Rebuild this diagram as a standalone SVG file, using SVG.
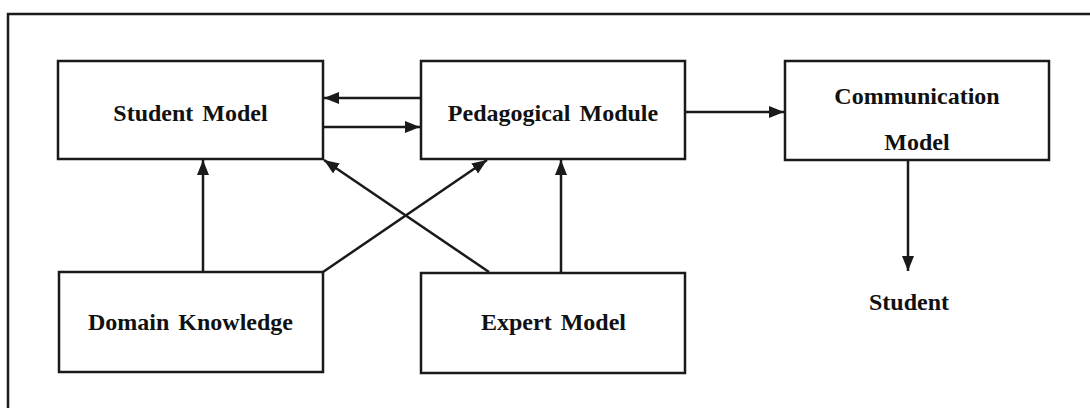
<svg xmlns="http://www.w3.org/2000/svg" width="1090" height="408" viewBox="0 0 1090 408">
<style>
.box{fill:#fff;stroke:#1a1a1a;stroke-width:2.5}
.lbl{font-family:"Liberation Serif","Times New Roman",serif;font-weight:bold;font-size:24px;fill:#111;text-anchor:middle;word-spacing:3px}
.con{stroke:#1a1a1a;stroke-width:2.5;fill:none}
.arr{marker-end:url(#ah)}
</style>
<defs>
<marker id="ah" markerUnits="userSpaceOnUse" markerWidth="16" markerHeight="13" refX="15" refY="6" orient="auto">
<path d="M0,0 L15,6 L0,12 z" fill="#1a1a1a"/>
</marker>
</defs>
<rect width="1090" height="408" fill="#fff"/>
<path id="frame" d="M8,420 L8,14 L1100,14" fill="none" stroke="#1a1a1a" stroke-width="2.5"/>
<g id="connectors">
<line class="con arr" x1="421" y1="98" x2="324" y2="98"/>
<line class="con arr" x1="323" y1="127" x2="420" y2="127"/>
<line class="con arr" x1="203" y1="272" x2="203" y2="160"/>
<line class="con arr" x1="323" y1="272" x2="487" y2="160"/>
<line class="con arr" x1="489" y1="272" x2="324" y2="160"/>
<line class="con arr" x1="561" y1="272" x2="561" y2="160"/>
<line class="con arr" x1="685" y1="112" x2="784" y2="112"/>
<line class="con arr" x1="908" y1="160" x2="908" y2="271"/>
</g>
<g id="student-model">
<rect class="box" x="58" y="61" width="265" height="98"/>
<text class="lbl" x="190.5" y="121">Student Model</text>
</g>
<g id="pedagogical-module">
<rect class="box" x="421" y="61" width="264" height="98"/>
<text class="lbl" x="553" y="121">Pedagogical Module</text>
</g>
<g id="communication-model">
<rect class="box" x="785" y="61" width="264" height="99"/>
<text class="lbl" x="917" y="104">Communication</text>
<text class="lbl" x="917" y="150">Model</text>
</g>
<g id="domain-knowledge">
<rect class="box" x="59" y="272" width="264" height="100"/>
<text class="lbl" x="190.5" y="330">Domain Knowledge</text>
</g>
<g id="expert-model">
<rect class="box" x="421" y="273" width="264" height="100"/>
<text class="lbl" x="553.5" y="330">Expert Model</text>
</g>
<g id="student">
<text class="lbl" x="909" y="310">Student</text>
</g>
</svg>
